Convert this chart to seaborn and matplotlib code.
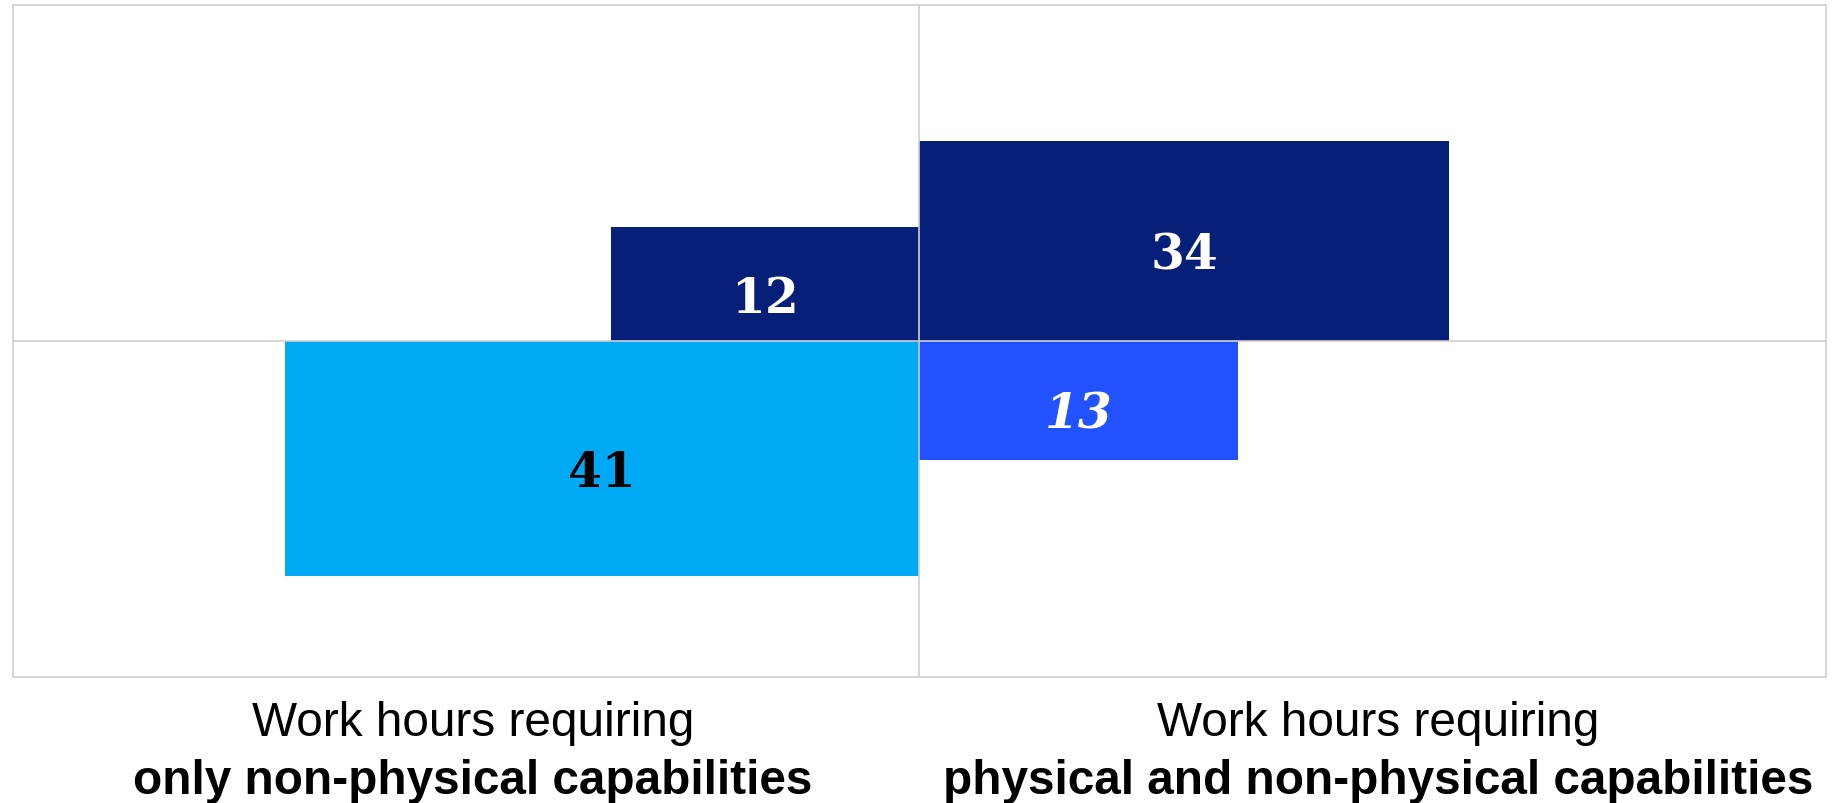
import matplotlib
matplotlib.use("Agg")
import matplotlib.pyplot as plt
import matplotlib.transforms as mtransforms
import seaborn as sns

# ---- data ----
column_labels = ["only non-physical capabilities", "physical and non-physical capabilities"]
header = "Work hours requiring"
values = [12, 34, 41, 13]
value_labels = ["12", "34", "41", "13"]
quadrant_x = [-1, 1, -1, 1]      # -1: left column, 1: right column
quadrant_y = [1, 1, -1, -1]      # 1: upper row, -1: lower row
box_width = [17.0, 29.2, 35.0, 17.6]
box_height = [16.9, 29.8, 35.0, 17.7]

# ---- style ----
bar_colors = ["#061F79", "#061F79", "#00A9F4", "#2251FF"]
text_colors = ["white", "white", "black", "white"]
text_styles = ["normal", "normal", "normal", "italic"]
grid_color = "#cfcfcf"

sns.set_theme(style="white")
plt.rcParams["font.family"] = ["Liberation Sans", "DejaVu Sans"]

fig = plt.figure(figsize=(18.37, 8.04), dpi=100)
ax = fig.add_axes([12.5 / 1837, 1 - 678 / 804, (1826 - 12.5) / 1837, (678 - 6) / 804])

for i in range(len(values)):
    w = box_width[i]
    h = box_height[i]
    left = 0 if quadrant_x[i] > 0 else -w
    bottom = 0 if quadrant_y[i] > 0 else -h
    ax.bar(left, h, width=w, bottom=bottom, align="edge",
           color=bar_colors[i], edgecolor="none", linewidth=0, zorder=2)
    ax.annotate(value_labels[i], xy=(left + w / 2, bottom + h / 2),
                xytext=(0, -10), textcoords="offset points",
                ha="center", va="center", fontsize=35, fontweight="bold",
                fontstyle=text_styles[i], color=text_colors[i],
                family=["DejaVu Serif"], zorder=4)

ax.set_xlim(-50, 50)
ax.set_ylim(-50, 50)
ax.axvline(0, color=grid_color, lw=1.2, zorder=3)
ax.axhline(0, color=grid_color, lw=1.2, zorder=3)
for s in ax.spines.values():
    s.set_color(grid_color)
    s.set_linewidth(1.2)
ax.set_xticks([])
ax.set_yticks([])

trans = mtransforms.blended_transform_factory(ax.transData, fig.transFigure)
for cx, lab in zip([-24.6, 25.3], column_labels):
    ax.text(cx, 1 - 724 / 804, header, transform=trans, ha="center", va="center",
            fontsize=34.4, color="black")
    ax.text(cx, 1 - 782 / 804, lab, transform=trans, ha="center", va="center",
            fontsize=34.4, fontweight="bold", color="black")

fig.savefig("out.png", dpi=100)
